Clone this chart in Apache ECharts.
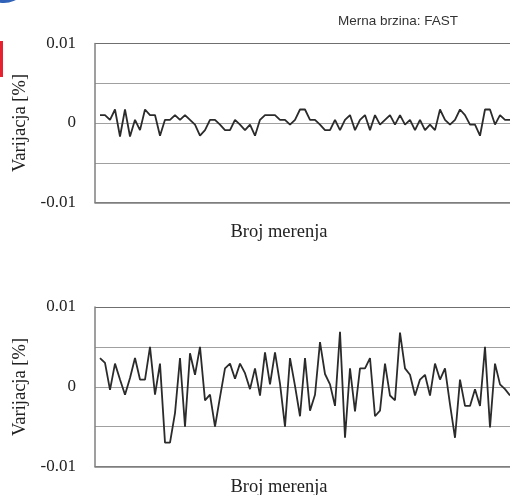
<!DOCTYPE html>
<html>
<head>
<meta charset="utf-8">
<script src="https://cdn.jsdelivr.net/npm/echarts@6/dist/echarts.min.js"></script>
<style>
html,body{margin:0;padding:0;background:#fff;}
#chart{width:510px;height:495px;}
</style>
</head>
<body>
<div id="chart"></div>
<script>
// Data
const titleText = 'Merna brzina: FAST';
const yAxisName = 'Varijacja [%]';
const xAxisName = 'Broj merenja';
const yTickLabels = ['-0.01', '', '0', '', '0.01'];

const fastValues = [
  0.001, 0.001, 0.0004, 0.0017, -0.0017, 0.0017, -0.0017, 0.0004, -0.0009, 0.0017,
  0.001, 0.001, -0.0016, 0.0004, 0.0004, 0.001, 0.0004, 0.001, 0.0004, -0.0002,
  -0.0016, -0.0009, 0.0004, 0.0004, -0.0002, -0.0009, -0.0009, 0.0004, -0.0002, -0.0009,
  -0.0002, -0.0016, 0.0004, 0.001, 0.001, 0.001, 0.0004, 0.0004, -0.0002, 0.0004,
  0.0017, 0.0017, 0.0004, 0.0004, -0.0002, -0.0009, -0.0009, 0.0004, -0.0009, 0.0004,
  0.001, -0.0009, 0.0004, 0.001, -0.0009, 0.001, -0.0002, 0.0004, 0.001, -0.0002,
  0.001, -0.0002, 0.0004, -0.0009, 0.0004, -0.0009, -0.0002, -0.0009, 0.0017, 0.0004,
  -0.0002, 0.0004, 0.0017, 0.001, -0.0002, -0.0002, -0.0016, 0.0017, 0.0017, -0.0002,
  0.001, 0.0004, 0.0004
];

const secondValues = [
  0.0036, 0.003, -0.0004, 0.0029, 0.0009, -0.001, 0.0011, 0.0036, 0.0009, 0.0009,
  0.005, -0.001, 0.0029, -0.007, -0.007, -0.0033, 0.0036, -0.005, 0.0042, 0.0015,
  0.005, -0.0017, -0.001, -0.005, -0.0013, 0.0023, 0.0029, 0.001, 0.0029, 0.0017,
  -0.0003, 0.0023, -0.0011, 0.0043, 0.0003, 0.0043, 0.0004, -0.005, 0.0036, 0.0001,
  -0.0037, 0.0036, -0.003, -0.001, 0.0056, 0.0016, 0.0003, -0.0024, 0.0069, -0.0064,
  0.0023, -0.0031, 0.0023, 0.0023, 0.0036, -0.0037, -0.003, 0.0029, -0.0011, -0.0017,
  0.0068, 0.0023, 0.0015, -0.0011, 0.0009, 0.0015, -0.0011, 0.0029, 0.0009, 0.0023,
  -0.0022, -0.0064, 0.0009, -0.0024, -0.0024, -0.0003, -0.0024, 0.005, -0.0051, 0.0029,
  0.0003, -0.0003, -0.0011
];

// measurement numbers (1..N)
const measurements = fastValues.map((_, i) => i + 1);

const serif = '"Liberation Serif", "Times New Roman", serif';
const sans = '"Liberation Sans", Arial, sans-serif';
const frameColor = '#7f7f7f';

function makeY(gridIndex) {
  return {
    type: 'value', gridIndex: gridIndex,
    min: -0.01, max: 0.01, interval: 0.005,
    axisLine: {show: true, lineStyle: {color: frameColor, width: 1.5}},
    axisTick: {show: false},
    axisLabel: {
      margin: 19, color: '#222', fontFamily: serif, fontSize: 17,
      formatter: function (v, idx) { return yTickLabels[idx] !== undefined ? yTickLabels[idx] : ''; }
    },
    splitLine: {lineStyle: {color: [frameColor, '#a0a0a0', '#a0a0a0', '#a0a0a0', '#6f6f6f'], width: 1}}
  };
}
function makeX(gridIndex) {
  return {
    type: 'value', gridIndex: gridIndex, min: 0, max: 83,
    axisLine: {show: true, onZero: false, lineStyle: {color: frameColor, width: 1.5}},
    axisTick: {show: false}, axisLabel: {show: false}, splitLine: {show: false}
  };
}
function makeSeries(values, idx) {
  return {
    type: 'line', xAxisIndex: idx, yAxisIndex: idx,
    data: values.map((v, i) => [measurements[i], v]),
    showSymbol: false, symbol: 'none', animation: false, clip: false,
    lineStyle: {color: '#2b2b2b', width: 1.8}
  };
}

const chart = echarts.init(document.getElementById('chart'));
chart.setOption({
  animation: false,
  grid: [
    {left: 95, top: 43.5, right: 0, height: 159},
    {left: 95, top: 307, right: 0, height: 159.5}
  ],
  xAxis: [makeX(0), makeX(1)],
  yAxis: [makeY(0), makeY(1)],
  series: [makeSeries(fastValues, 0), makeSeries(secondValues, 1)],
  graphic: [
    {type: 'circle', shape: {cx: 4, cy: -22, r: 25}, style: {fill: '#2f62b8'}, silent: true},
    {type: 'rect', shape: {x: 0, y: 41, width: 3, height: 36}, style: {fill: '#e8212e'}, silent: true},
    {type: 'text', x: 398, y: 21, style: {text: titleText, font: '13.5px ' + sans, fill: '#333', textAlign: 'center', textVerticalAlign: 'middle'}},
    {type: 'text', x: 20, y: 123, rotation: Math.PI / 2, style: {text: yAxisName, font: '18.5px ' + serif, fill: '#222', textAlign: 'center', textVerticalAlign: 'middle'}},
    {type: 'text', x: 279, y: 232, style: {text: xAxisName, font: '18.5px ' + serif, fill: '#222', textAlign: 'center', textVerticalAlign: 'middle'}},
    {type: 'text', x: 20, y: 387, rotation: Math.PI / 2, style: {text: yAxisName, font: '18.5px ' + serif, fill: '#222', textAlign: 'center', textVerticalAlign: 'middle'}},
    {type: 'text', x: 279, y: 487, style: {text: xAxisName, font: '18.5px ' + serif, fill: '#222', textAlign: 'center', textVerticalAlign: 'middle'}}
  ]
});
</script>
</body>
</html>
